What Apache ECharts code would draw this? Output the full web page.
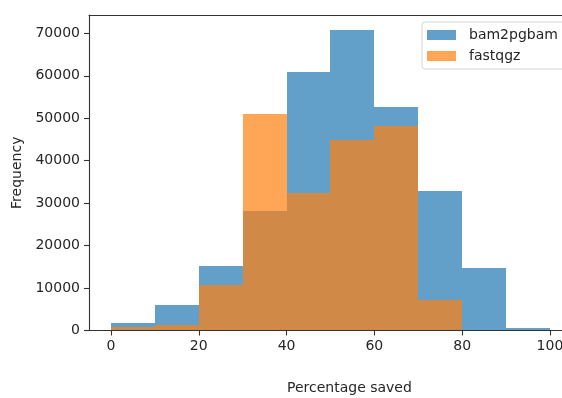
<!DOCTYPE html>
<html>
<head>
<meta charset="utf-8">
<script src="https://cdn.jsdelivr.net/npm/echarts@6/dist/echarts.min.js"></script>
<style>
html,body{margin:0;padding:0;background:#fff;}
#chart{width:562px;height:398px;}
</style>
</head>
<body>
<div id="chart"></div>
<script>
const binEdges = [0, 10, 20, 30, 40, 50, 60, 70, 80, 90, 100];
const bam2pgbam = [1700, 6000, 15100, 28200, 61000, 70800, 52600, 32900, 14800, 600];
const fastqgz = [750, 1300, 10700, 51000, 32500, 44900, 48200, 7200, 200, 0];
const xTicks = [0, 20, 40, 60, 80, 100];
const yTicks = [0, 10000, 20000, 30000, 40000, 50000, 60000, 70000];
const seriesNames = ['bam2pgbam', 'fastqgz'];

const FONT = 'DejaVu Sans';
const TXT = '#262626';
const BLUE = 'rgba(31,119,180,0.7)';
const ORANGE = 'rgba(255,127,14,0.7)';

function toBins(vals) {
  return vals.map((v, i) => [binEdges[i], binEdges[i + 1], v]);
}

function renderRect(params, api) {
  const p0 = api.coord([api.value(0), api.value(2)]);
  const p1 = api.coord([api.value(1), 0]);
  const x0 = Math.round(p0[0]), x1 = Math.round(p1[0]);
  const y0 = Math.round(p0[1]), y1 = Math.round(p1[1]);
  return {
    type: 'rect',
    shape: { x: x0, y: y0, width: x1 - x0, height: y1 - y0 },
    style: { fill: api.visual('color') }
  };
}

const chart = echarts.init(document.getElementById('chart'), null, { renderer: 'canvas' });
chart.setOption({
  animation: false,
  backgroundColor: '#fff',
  textStyle: { fontFamily: FONT },
  grid: { left: 89, top: 15, right: 0, height: 315.5, show: false, outerBoundsMode: 'none', containLabel: false },
  legend: {
    orient: 'vertical', left: 422, top: 22,
    padding: [6, 20, 6, 5], itemGap: 7, itemWidth: 29, itemHeight: 10,
    backgroundColor: '#fff', borderColor: '#d5d5d5', borderWidth: 1, borderRadius: 3,
    textStyle: { fontFamily: FONT, fontSize: 14, color: TXT, padding: [0, 0, 0, 8] },
    icon: 'rect',
    data: seriesNames
  },
  xAxis: [{
    type: 'value', min: -5, max: 102.74,
    axisLine: { show: true, onZero: false, lineStyle: { color: '#333', width: 1.1 } },
    axisTick: { show: true, length: 5, lineStyle: { color: '#333', width: 1.1 }, customValues: xTicks },
    axisLabel: { fontFamily: FONT, fontSize: 14, color: TXT, margin: 9, customValues: xTicks },
    splitLine: { show: false },
    z: 10
  }, {
    type: 'value', position: 'top', min: -5, max: 102.74,
    axisLine: { show: true, onZero: false, lineStyle: { color: '#333', width: 1.1 } },
    axisTick: { show: false }, axisLabel: { show: false }, splitLine: { show: false },
    z: 10
  }],
  yAxis: {
    type: 'value', min: 0, max: 74340,
    name: 'Frequency', nameLocation: 'middle', nameGap: 60,
    nameTextStyle: { fontFamily: FONT, fontSize: 14, color: TXT },
    axisLine: { show: true, onZero: false, lineStyle: { color: '#333', width: 1.1 } },
    axisTick: { show: true, length: 5, lineStyle: { color: '#333', width: 1.1 }, customValues: yTicks },
    axisLabel: { fontFamily: FONT, fontSize: 14, color: TXT, margin: 9, customValues: yTicks,
      formatter: v => String(v) },
    splitLine: { show: false },
    z: 10
  },
  graphic: [{
    type: 'text', left: 287, top: 381,
    style: { text: 'Percentage saved', fontFamily: FONT, fontSize: 14, fill: TXT }
  }],
  series: [
    { name: seriesNames[0], type: 'custom', renderItem: renderRect, itemStyle: { color: BLUE },
      xAxisIndex: 0, encode: { x: [0, 1], y: 2 }, data: toBins(bam2pgbam) },
    { name: seriesNames[1], type: 'custom', renderItem: renderRect, itemStyle: { color: ORANGE },
      xAxisIndex: 0, encode: { x: [0, 1], y: 2 }, data: toBins(fastqgz) }
  ]
});
</script>
</body>
</html>
